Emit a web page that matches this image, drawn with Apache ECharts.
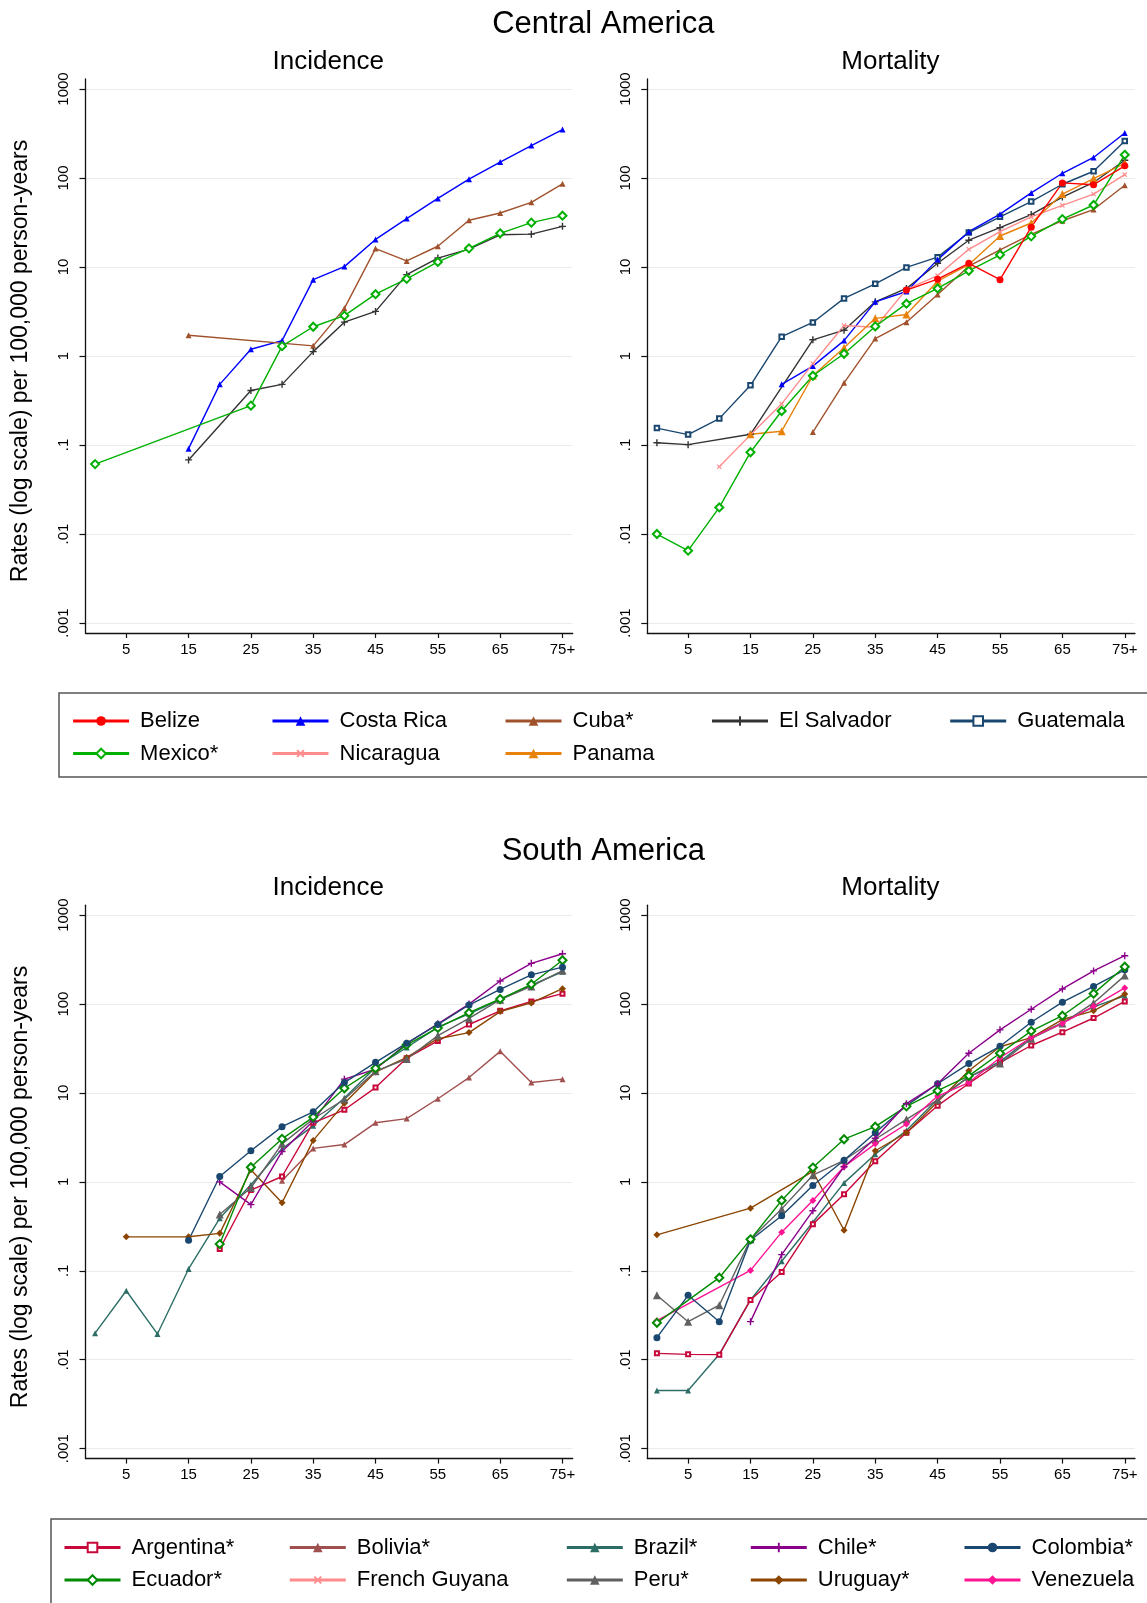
<!DOCTYPE html>
<html><head><meta charset="utf-8">
<script src="https://cdn.jsdelivr.net/npm/echarts@6/dist/echarts.min.js"></script>
<style>html,body{margin:0;padding:0;background:#fff}#c{width:1147px;height:1603px}</style>
</head><body><div id="c"></div><script>
// ---------- data ----------
const ages = [0,5,10,15,20,25,30,35,40,45,50,55,60,65,70,75];
const xTickValues = [5,15,25,35,45,55,65,75];
const yTickValues = [0.001,0.01,0.1,1,10,100,1000];
const yTickLabels = ['.001','.01','.1','1','10','100','1000'];
const n = null;

// Central America - incidence
const ciCostaRica  = [n,n,n,0.091,0.48,1.19,1.49,7.2,10.1,20.4,35,59,97,151,231,350];
const ciCuba       = [n,n,n,1.71,n,n,n,1.30,3.43,16.1,11.7,17.1,33.5,40.4,53.3,86];
const ciElSalvador = [n,n,n,0.068,n,0.41,0.48,1.12,2.40,3.17,8.2,12.6,15.9,23.0,23.4,28.6];
const ciMexico     = [0.061,n,n,n,n,0.277,1.29,2.13,2.84,4.95,7.36,11.4,16.2,23.9,31.5,37.7];
// Central America - mortality
const cmBelize     = [n,n,n,n,n,n,n,n,5.5,7.3,11.0,7.2,28,88,84,137];
const cmCostaRica  = [n,n,n,n,0.48,0.77,1.49,4.06,5.3,12.1,24.9,39.2,68,113,170,320];
const cmCuba       = [n,n,n,n,n,0.14,0.50,1.57,2.40,4.9,10.2,15.6,23.2,33.1,44.2,83];
const cmElSalvador = [0.106,0.101,n,0.132,n,1.52,1.95,4.06,5.74,11.0,20.0,27.7,38.8,61,89,158];
const cmGuatemala  = [0.155,0.131,0.198,0.469,1.65,2.38,4.44,6.47,9.9,12.9,24.4,36.6,54.4,85,119,260];
const cmMexico     = [0.010,0.0065,0.0199,0.083,0.241,0.60,1.06,2.15,3.87,5.74,9.06,13.7,22.1,34.5,49.7,182];
const cmNicaragua  = [n,n,0.057,0.13,0.29,0.82,2.2,2.1,5.6,8.0,15.8,24.9,36.6,49.2,66,109];
const cmPanama     = [n,n,n,0.132,0.143,0.60,1.24,2.65,2.93,6.93,10.6,22.3,31.2,66,98.6,146];
// South America - incidence
const siArgentina  = [n,n,n,n,0.176,0.81,1.15,4.62,6.47,11.5,24.6,38.5,58.9,84,107,131];
const siBolivia    = [n,n,n,n,n,n,1.03,2.38,2.63,4.62,5.15,8.62,14.9,29.4,13.1,14.3];
const siBrazil     = [0.0199,0.0597,0.0195,0.105,0.39,0.93,2.35,4.27,8.8,19.4,32.5,55,77.7,112,163,231];
const siChile      = [n,n,n,n,1.0,0.555,2.2,4.85,14.3,18.5,36,60,100,182,287,368];
const siColombia   = [n,n,n,0.221,1.15,2.24,4.18,6.15,13.1,22.1,36.3,58.9,97.6,146,213,260];
const siEcuador    = [n,n,n,n,0.2,1.46,3.05,5.36,11.3,19.0,34.8,53.9,80,114,167,311];
const siPeru       = [n,n,n,n,0.43,0.86,2.68,5.1,8.5,17.6,24.1,44.2,69,112,158,238];
const siUruguay    = [n,0.241,n,0.242,0.264,1.37,0.583,2.93,7.65,17.2,25.1,40.8,47.8,82.4,103,149];
// South America - mortality
const smArgentina  = [0.0118,0.0115,0.0114,0.047,0.097,0.335,0.725,1.71,3.57,7.2,12.8,22,34.2,48.3,69.7,107];
const smBrazil     = [0.0045,0.0045,0.0115,0.047,0.128,0.352,0.975,2.05,3.79,8.5,15.2,22.5,42,62,93,124];
const smChile      = [n,n,n,0.0268,0.152,0.473,1.48,3.1,7.58,12.7,28,51.3,87.5,148,236,350];
const smColombia   = [0.0177,0.053,0.0268,0.221,0.416,0.91,1.75,3.57,7.2,12.7,21.4,33.5,62.5,105,158,243];
const smEcuador    = [0.026,n,0.0837,0.226,0.618,1.45,3.02,4.18,7.07,10.6,15.6,28,49.7,74,131,263];
const smPeru       = [0.053,0.0268,0.041,0.226,0.497,1.19,1.75,3.02,5.05,8.37,15.2,21.4,40.8,60.6,103,209];
const smUruguay    = [0.254,n,n,0.507,n,1.31,0.286,2.24,3.57,7.96,17.8,33.1,42,67,84,130];
const smVenezuela  = [0.0275,n,n,0.101,0.272,0.618,1.48,2.68,4.48,9.24,13.1,24.9,42,60.6,94.7,152];
const smFrenchGuyana = [];

const centralNames = ['Belize','Costa Rica','Cuba*','El Salvador','Guatemala','Mexico*','Nicaragua','Panama'];
const southNames = ['Argentina*','Bolivia*','Brazil*','Chile*','Colombia*','Ecuador*','French Guyana','Peru*','Uruguay*','Venezuela'];

// ---------- styles ----------
const PLUS = 'path://M4,0L6,0L6,4L10,4L10,6L6,6L6,10L4,10L4,6L0,6L0,4L4,4Z';
const sty = {
  'Belize':      {color:'#ff0000', symbol:'circle', size:7},
  'Costa Rica':  {color:'#0000ff', symbol:'triangle', size:6},
  'Cuba*':       {color:'#a0522d', symbol:'triangle', size:6},
  'El Salvador': {color:'#333333', symbol:PLUS, size:7},
  'Guatemala':   {color:'#1a476f', symbol:'emptyRect', size:4.5},
  'Mexico*':     {color:'#00b000', symbol:'emptyDiamond', size:8},
  'Nicaragua':   {color:'#ff8c8c', symbol:PLUS, size:6, rot:45},
  'Panama':      {color:'#e8820c', symbol:'triangle', size:8},
  'Argentina*':  {color:'#c8073a', symbol:'emptyRect', size:4},
  'Bolivia*':    {color:'#a0504f', symbol:'triangle', size:6},
  'Brazil*':     {color:'#2c6e66', symbol:'triangle', size:6},
  'Chile*':      {color:'#8b008b', symbol:PLUS, size:7},
  'Colombia*':   {color:'#1a476f', symbol:'circle', size:7},
  'Ecuador*':    {color:'#008b00', symbol:'emptyDiamond', size:8},
  'French Guyana':{color:'#ff8c8c', symbol:PLUS, size:6, rot:45},
  'Peru*':       {color:'#606060', symbol:'triangle', size:8},
  'Uruguay*':    {color:'#8b4500', symbol:'diamond', size:7},
  'Venezuela':   {color:'#ff1493', symbol:'diamond', size:7}
};

const FONT = '"Liberation Sans", Arial, Helvetica, sans-serif';

// ---------- layout ----------
const grids = [
  {left:85.5, top:79, width:487.2, height:554},
  {left:647.3, top:79, width:487.7, height:554},
  {left:85.5, top:905.2, width:487.2, height:553.4},
  {left:647.3, top:905.2, width:487.7, height:553.4}
];

const xAxes = grids.map((g,i)=>({
  type:'value', gridIndex:i, min:-1.54, max:76.64,
  axisLine:{show:true, onZero:false, lineStyle:{color:'#111', width:1.3}},
  axisTick:{show:true, length:5, customValues:xTickValues, lineStyle:{color:'#111', width:1.2}},
  axisLabel:{customValues:xTickValues, margin:9, fontSize:15, color:'#000', fontFamily:FONT,
    formatter:v=> v===75 ? '75+' : String(v)},
  splitLine:{show:false}
}));
const yAxes = grids.map((g,i)=>({
  type:'log', gridIndex:i, logBase:10,
  min:Math.pow(10,-3.112), max:Math.pow(10,3.112),
  axisLine:{show:true, onZero:false, lineStyle:{color:'#111', width:1.3}},
  axisTick:{show:true, length:6, customValues:yTickValues, lineStyle:{color:'#111', width:1.2}},
  axisLabel:{customValues:yTickValues, rotate:90, margin:14, fontSize:15, color:'#000', fontFamily:FONT,
    formatter:v=>{ const k = yTickValues.findIndex(t=>Math.abs(Math.log10(t)-Math.log10(v))<1e-6); return k>=0 ? yTickLabels[k] : ''; }},
  splitLine:{show:true, lineStyle:{color:'#ebebeb', width:1}}
}));

const series = [];
function add(name, vals, gi){
  const s = sty[name];
  series.push({
    type:'line', name:name, xAxisIndex:gi, yAxisIndex:gi,
    data: vals.map((v,i)=>[ages[i], v]),
    connectNulls:true, showAllSymbol:true,
    symbol:s.symbol, symbolSize:s.size, symbolRotate:s.rot||0,
    lineStyle:{color:s.color, width:1.4},
    itemStyle:{color:s.color},
    emphasis:{disabled:true},
    animation:false, z:2
  });
}
add('Costa Rica', ciCostaRica, 0);
add('Cuba*', ciCuba, 0);
add('El Salvador', ciElSalvador, 0);
add('Mexico*', ciMexico, 0);

add('Guatemala', cmGuatemala, 1);
add('El Salvador', cmElSalvador, 1);
add('Costa Rica', cmCostaRica, 1);
add('Cuba*', cmCuba, 1);
add('Nicaragua', cmNicaragua, 1);
add('Panama', cmPanama, 1);
add('Mexico*', cmMexico, 1);
add('Belize', cmBelize, 1);

add('Bolivia*', siBolivia, 2);
add('Brazil*', siBrazil, 2);
add('Argentina*', siArgentina, 2);
add('Uruguay*', siUruguay, 2);
add('Peru*', siPeru, 2);
add('Chile*', siChile, 2);
add('Ecuador*', siEcuador, 2);
add('Colombia*', siColombia, 2);

add('French Guyana', smFrenchGuyana, 3);
add('Brazil*', smBrazil, 3);
add('Argentina*', smArgentina, 3);
add('Uruguay*', smUruguay, 3);
add('Peru*', smPeru, 3);
add('Venezuela', smVenezuela, 3);
add('Colombia*', smColombia, 3);
add('Ecuador*', smEcuador, 3);
add('Chile*', smChile, 3);

// ---------- legends ----------
const legends = [];
function legendGrid(names, colX, rowY){
  names.forEach((nm,i)=>{
    const c = i % 5, r = Math.floor(i/5);
    legends.push({
      data:[nm], left:colX[c], top:rowY[r]-11, orient:'horizontal', padding:0,
      itemWidth:56, itemHeight:12, selectedMode:false,
      lineStyle:{width:3},
      textStyle:{fontSize:22, color:'#000', fontFamily:FONT, padding:[0,0,0,6]}
    });
  });
}
legendGrid(centralNames, [71.6,271,504,710.5,948.7], [721,753.5]);
legendGrid(southNames, [63,288.3,565.3,749.3,963], [1547.5,1580]);

// ---------- text / frames ----------
const graphic = [
  {type:'text', x:603.3, y:24, style:{text:'Central America', font:'31px '+FONT, fill:'#000', align:'center', verticalAlign:'middle'}},
  {type:'text', x:328.2, y:61.5, style:{text:'Incidence', font:'26px '+FONT, fill:'#000', align:'center', verticalAlign:'middle'}},
  {type:'text', x:890.4, y:61.5, style:{text:'Mortality', font:'26px '+FONT, fill:'#000', align:'center', verticalAlign:'middle'}},
  {type:'text', x:603.3, y:851, style:{text:'South America', font:'31px '+FONT, fill:'#000', align:'center', verticalAlign:'middle'}},
  {type:'text', x:328.2, y:887.5, style:{text:'Incidence', font:'26px '+FONT, fill:'#000', align:'center', verticalAlign:'middle'}},
  {type:'text', x:890.4, y:887.5, style:{text:'Mortality', font:'26px '+FONT, fill:'#000', align:'center', verticalAlign:'middle'}},
  {type:'text', x:20.4, y:361, rotation:Math.PI/2, style:{text:'Rates (log scale) per 100,000 person-years', font:'23px '+FONT, fill:'#000', align:'center', verticalAlign:'middle'}},
  {type:'text', x:20.4, y:1187, rotation:Math.PI/2, style:{text:'Rates (log scale) per 100,000 person-years', font:'23px '+FONT, fill:'#000', align:'center', verticalAlign:'middle'}},
  {type:'rect', shape:{x:59, y:693, width:1110, height:84}, style:{fill:'none', stroke:'#555', lineWidth:1.5}},
  {type:'rect', shape:{x:51, y:1519, width:1120, height:120}, style:{fill:'none', stroke:'#555', lineWidth:1.5}}
];

const chart = echarts.init(document.getElementById('c'), null, {renderer:'canvas'});
chart.setOption({
  animation:false,
  backgroundColor:'#fff',
  textStyle:{fontFamily:FONT},
  grid:grids.map(g=>Object.assign({containLabel:false}, g)),
  xAxis:xAxes, yAxis:yAxes,
  legend:legends,
  series:series,
  graphic:graphic
});
</script></body></html>
